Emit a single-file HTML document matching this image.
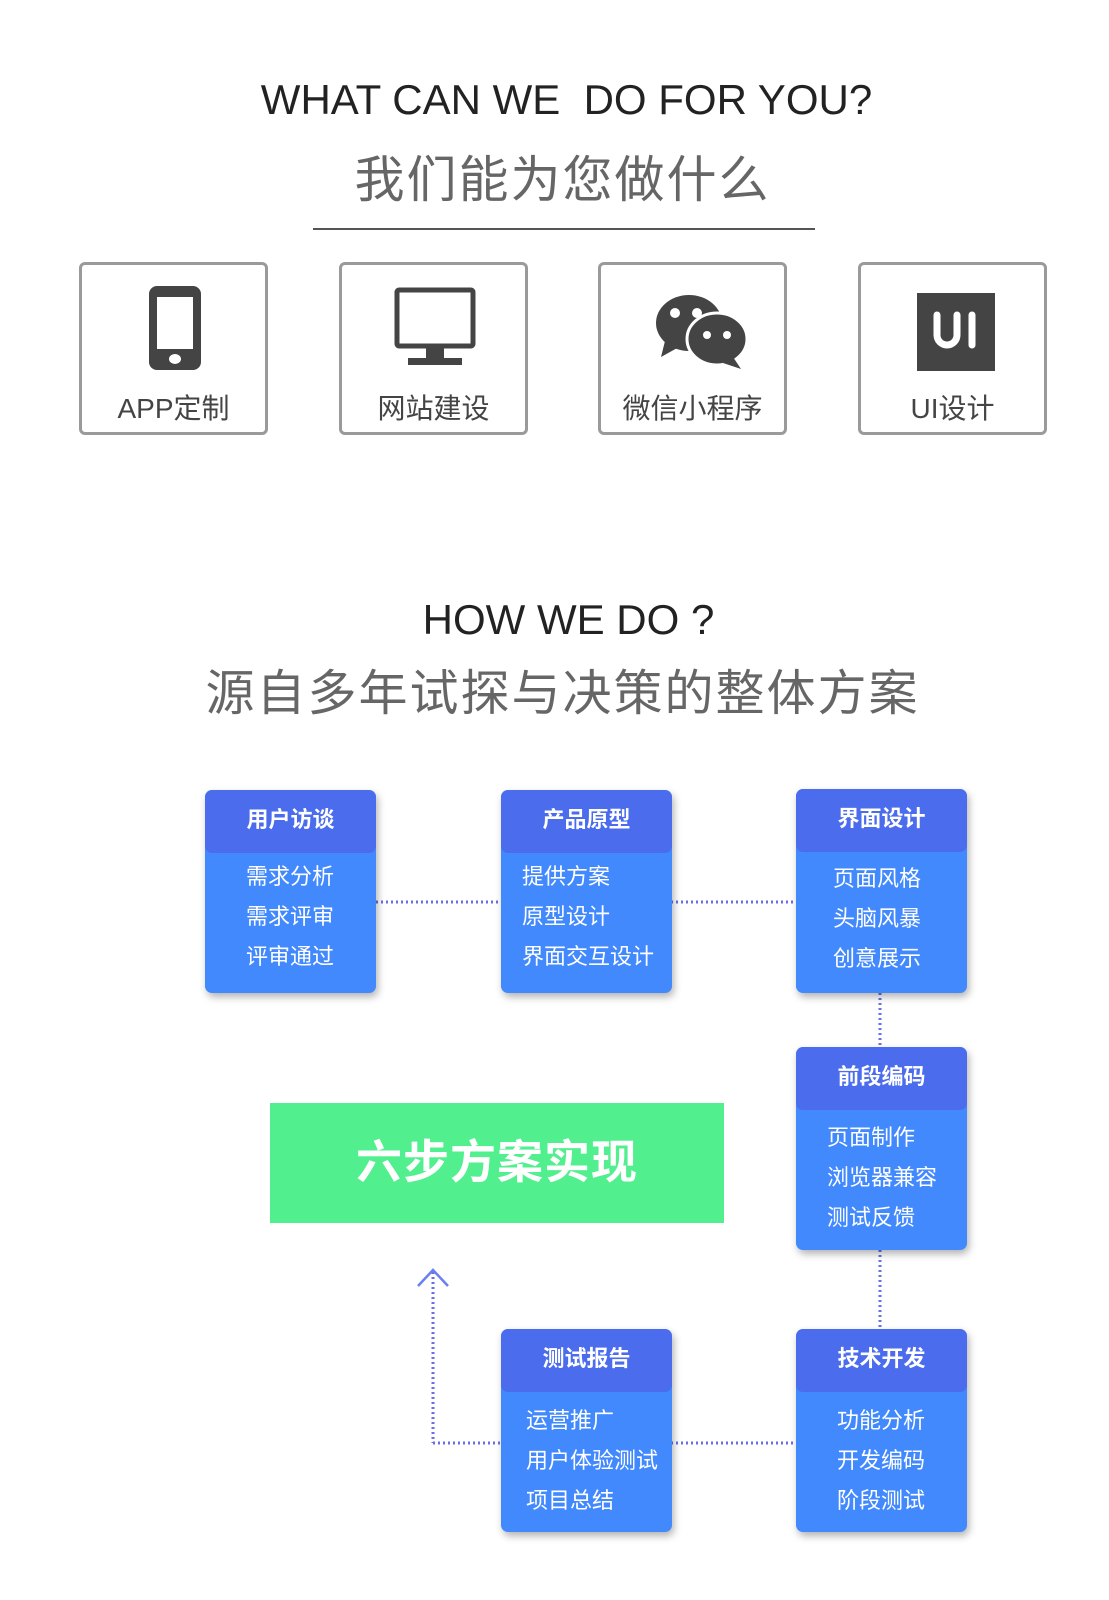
<!DOCTYPE html>
<html><head><meta charset="utf-8"><style>
body{margin:0;width:1109px;height:1600px;background:#fff;position:relative;overflow:hidden;font-family:"Liberation Sans","Noto Sans CJK SC",sans-serif}
.a{position:absolute}
.t{position:absolute;left:0;width:1109px;text-align:center;white-space:nowrap}
.box{position:absolute;top:262px;width:189px;height:173px;border:3px solid #9a9a9a;border-radius:6px;box-sizing:border-box}
.box .lb{position:absolute;left:0;right:0;top:122px;text-align:center;font-size:28px;color:#444}
.card{position:absolute;width:171px;background:#4289fd;border-radius:7px;box-shadow:2px 4px 8px rgba(0,0,0,.3);overflow:hidden}
.card .h{height:63px;background:#4a6ced;color:#fff;font-weight:bold;font-size:22px;text-align:center;line-height:60px;border-radius:7px}
.card .l{position:absolute;color:#fff;font-size:22px;line-height:40px;white-space:nowrap}
</style></head><body>
<div class="t" style="top:76px;left:12px;font-size:42px;color:#222">WHAT CAN WE&nbsp; DO FOR YOU?</div>
<div class="t" style="top:140px;left:8px;font-size:50px;color:#666;letter-spacing:2px">我们能为您做什么</div>
<div class="a" style="left:313px;top:228px;width:502px;height:2px;background:#555"></div>

<div class="box" style="left:79px"><svg class="a" style="left:65px;top:19px" width="56" height="88"><rect x="2" y="2" width="52" height="84" rx="8" fill="#444"/><rect x="10" y="13" width="36" height="52" fill="#fff"/><ellipse cx="28" cy="75" rx="6" ry="5" fill="#fff"/></svg><div class="lb">APP定制</div></div>
<div class="box" style="left:339px"><svg class="a" style="left:52px;top:22px" width="82" height="82"><rect x="3" y="3" width="76" height="56" rx="2" fill="none" stroke="#444" stroke-width="5"/><rect x="32" y="58" width="18" height="14" fill="#444"/><rect x="14" y="71" width="54" height="7" fill="#444"/></svg><div class="lb">网站建设</div></div>
<div class="box" style="left:598px"><svg class="a" style="left:52px;top:28px" width="96" height="80"><ellipse cx="36" cy="30" rx="33" ry="28" fill="#444"/><polygon points="12,48 8,64 26,54" fill="#444"/><ellipse cx="64" cy="46" rx="30" ry="26" fill="#444" stroke="#fff" stroke-width="3"/><polygon points="80,64 88,76 70,70" fill="#444"/><circle cx="22" cy="20" r="5" fill="#fff"/><circle cx="44" cy="20" r="5" fill="#fff"/><circle cx="54" cy="42" r="4" fill="#fff"/><circle cx="74" cy="42" r="4" fill="#fff"/></svg><div class="lb">微信小程序</div></div>
<div class="box" style="left:858px"><div class="a" style="left:56px;top:28px;width:78px;height:78px;background:#444"></div><svg class="a" style="left:56px;top:28px" width="78" height="78"><path d="M20 22 V42 a10 10 0 0 0 20 0 V22" fill="none" stroke="#fff" stroke-width="7" stroke-linecap="round"/><line x1="55" y1="22" x2="55" y2="52" stroke="#fff" stroke-width="7" stroke-linecap="round"/></svg><div class="lb">UI设计</div></div>

<div class="t" style="top:596px;left:14px;font-size:42px;color:#222">HOW WE DO ?</div>
<div class="t" style="top:654px;left:8px;font-size:49px;color:#666;letter-spacing:2px">源自多年试探与决策的整体方案</div>

<svg class="a" style="left:0;top:0" width="1109" height="1600">
<g stroke="#6a6ee8" stroke-width="3" stroke-dasharray="2 3" fill="none">
<line x1="376" y1="902" x2="501" y2="902"/><line x1="671" y1="902" x2="796" y2="902"/>
<line x1="880" y1="993" x2="880" y2="1048"/><line x1="880" y1="1250" x2="880" y2="1330"/>
<line x1="671" y1="1443" x2="796" y2="1443"/><line x1="433" y1="1443" x2="501" y2="1443"/>
<line x1="433" y1="1272" x2="433" y2="1443"/></g>
<polyline points="418,1286 433,1270 448,1286" fill="none" stroke="#6a80ee" stroke-width="2.5"/>
</svg>

<div class="a" style="left:270px;top:1103px;width:454px;height:120px;background:#52ef8e;color:#fff;font-size:46px;font-weight:bold;text-align:center;line-height:118px;letter-spacing:1px">六步方案实现</div>

<div class="card" style="left:205px;top:790px;height:203px"><div class="h">用户访谈</div><div class="l" style="left:41px;top:67px">需求分析<br>需求评审<br>评审通过</div></div>
<div class="card" style="left:501px;top:790px;height:203px"><div class="h">产品原型</div><div class="l" style="left:21px;top:67px">提供方案<br>原型设计<br>界面交互设计</div></div>
<div class="card" style="left:796px;top:789px;height:204px"><div class="h">界面设计</div><div class="l" style="left:37px;top:70px">页面风格<br>头脑风暴<br>创意展示</div></div>
<div class="card" style="left:796px;top:1047px;height:203px"><div class="h">前段编码</div><div class="l" style="left:31px;top:71px">页面制作<br>浏览器兼容<br>测试反馈</div></div>
<div class="card" style="left:796px;top:1329px;height:203px"><div class="h">技术开发</div><div class="l" style="left:41px;top:72px">功能分析<br>开发编码<br>阶段测试</div></div>
<div class="card" style="left:501px;top:1329px;height:203px"><div class="h">测试报告</div><div class="l" style="left:25px;top:72px">运营推广<br>用户体验测试<br>项目总结</div></div>
</body></html>
